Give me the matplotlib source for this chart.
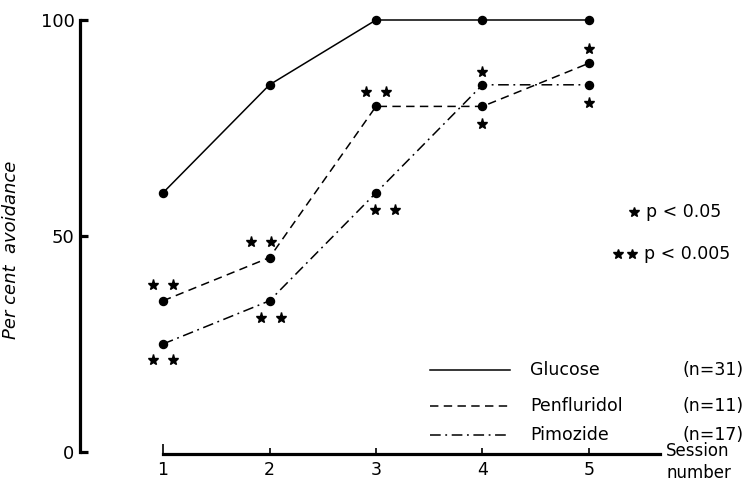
import matplotlib
matplotlib.use("Agg")
import matplotlib.pyplot as plt

plt.rcParams["font.family"] = "DejaVu Sans"

# data
sessions = [1, 2, 3, 4, 5]
glucose = [60, 85, 100, 100, 100]
penfluridol = [35, 45, 80, 80, 90]
pimozide = [25, 35, 60, 85, 85]

group_names = ["Glucose", "Penfluridol", "Pimozide"]
group_n = [31, 11, 17]

# significance marks: session, y level, number of stars, horizontal shift (sessions)
sig_session = [1, 1, 2, 2, 3, 3, 4, 4, 5, 5]
sig_y = [38.7, 21.3, 48.6, 31.0, 83.3, 56.0, 88.0, 75.9, 93.3, 80.8]
sig_stars = [2, 2, 2, 2, 2, 2, 1, 1, 1, 1]
sig_shift = [0.0, 0.0, -0.08, 0.01, 0.0, 0.08, 0.0, 0.0, 0.0, 0.0]

W, H = 744, 491
fig = plt.figure(figsize=(W / 100, H / 100), dpi=100)
ax = fig.add_axes([80 / W, 1 - 452 / H, 580 / W, 432 / H])

px_per_session = 106.5
ax.set_xlim(1 - 83 / px_per_session, 1 + 497 / px_per_session)
ax.set_ylim(0, 100)

styles = [
    dict(linestyle="-"),
    dict(linestyle=(0, (5.5, 3.5))),
    dict(linestyle=(0, (7, 3, 1.2, 3))),
]
for vals, st in zip([glucose, penfluridol, pimozide], styles):
    ax.plot(sessions, vals, color="black", lw=1.1, marker="o", ms=5.8,
            clip_on=False, **st)

# stars
gap = 20 / px_per_session
for s, y, n, d in zip(sig_session, sig_y, sig_stars, sig_shift):
    if n == 1:
        xs = [s + d]
    else:
        xs = [s + d - gap / 2, s + d + gap / 2]
    ax.plot(xs, [y] * len(xs), ls="none", marker="*", ms=8, color="black",
            clip_on=False)

# spines
for side in ["top", "right"]:
    ax.spines[side].set_visible(False)
ax.spines["left"].set_linewidth(2.3)
ax.spines["left"].set_bounds(0, 100)
ax.spines["bottom"].set_linewidth(2.3)
ax.spines["bottom"].set_bounds(1, ax.get_xlim()[1])
ax.spines["bottom"].set_position(("outward", 1.5))

ax.set_yticks([0, 50, 100])
ax.set_yticklabels(["0", "50", "100"], fontsize=13)
ax.tick_params(axis="y", direction="in", length=6, width=2.3, pad=4)
ax.set_xticks(sessions)
ax.set_xticklabels([str(s) for s in sessions], fontsize=12.5)
ax.tick_params(axis="x", direction="in", length=4.5, width=1.2, pad=5)
ax.xaxis.get_major_ticks()[0].tick1line.set_markersize(7.5)

ax.set_ylabel("Per cent  avoidance", fontsize=13, style="italic")
ax.yaxis.set_label_coords((20 - 80) / 580, (452 - 250) / 432)

def ax_x(px):
    return (px - 80) / 580

def ax_y(py):
    return (452 - py) / 432

ax.text(ax_x(666), ax_y(462), "Session\nnumber", fontsize=12, ha="left",
        va="center", transform=ax.transAxes, clip_on=False, linespacing=1.3)

# line legend
leg_y = [370, 406, 435]
for name, n, st, py in zip(group_names, group_n, styles, leg_y):
    ax.plot([ax_x(430), ax_x(510)], [ax_y(py)] * 2, color="black", lw=1.1,
            transform=ax.transAxes, clip_on=False, **st)
    ax.text(ax_x(530), ax_y(py), name, fontsize=12.5, ha="left", va="center",
            transform=ax.transAxes, clip_on=False)
    ax.text(ax_x(683), ax_y(py), f"(n={n})", fontsize=12.5, ha="left",
            va="center", transform=ax.transAxes, clip_on=False)

# significance legend
ax.plot([ax_x(634)], [ax_y(212)], ls="none", marker="*", ms=7.5, color="black",
        transform=ax.transAxes, clip_on=False)
ax.text(ax_x(646), ax_y(212), "p < 0.05", fontsize=12.5, ha="left", va="center",
        transform=ax.transAxes, clip_on=False)
ax.plot([ax_x(618), ax_x(632)], [ax_y(254)] * 2, ls="none", marker="*", ms=7.5,
        color="black", transform=ax.transAxes, clip_on=False)
ax.text(ax_x(644), ax_y(254), "p < 0.005", fontsize=12.5, ha="left", va="center",
        transform=ax.transAxes, clip_on=False)

fig.savefig("out.png", dpi=100)
